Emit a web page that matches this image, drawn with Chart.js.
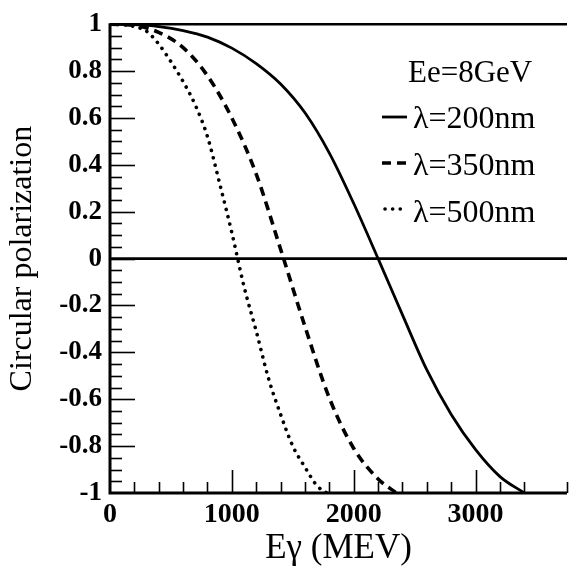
<!DOCTYPE html>
<html>
<head>
<meta charset="utf-8">
<script src="https://cdn.jsdelivr.net/npm/chart.js@4/dist/chart.umd.min.js"></script>
<style>
html,body{margin:0;padding:0;background:#fff;overflow:hidden;}
canvas{display:block;}
</style>
</head>
<body>
<canvas id="c" width="572" height="570"></canvas>
<script>
// ---- data ----
const seriesNames = ["\u03bb=200nm", "\u03bb=350nm", "\u03bb=500nm"];
const headerText = "Ee=8GeV";
const xTitle = "E\u03b3 (MEV)";
const yTitle = "Circular polarization";

const energy200 = [0, 200, 400, 600, 800, 1000, 1200, 1400, 1600, 1800, 2000, 2200, 2400, 2600, 2800, 3000, 3200, 3400];
const pol200    = [1, 0.998, 0.99, 0.973, 0.945, 0.898, 0.832, 0.745, 0.622, 0.45, 0.235, 0, -0.24, -0.475, -0.665, -0.815, -0.93, -1];

const energy350 = [0, 200, 400, 600, 800, 1000, 1200, 1400, 1600, 1800, 2000, 2200, 2350];
const pol350    = [1, 0.995, 0.965, 0.9, 0.78, 0.6, 0.36, 0.04, -0.29, -0.595, -0.81, -0.94, -1];

const energy500 = [0, 100, 200, 300, 400, 500, 600, 700, 800, 900, 1000, 1100, 1200, 1300, 1400, 1500, 1600, 1700, 1780];
const pol500    = [1, 0.998, 0.99, 0.97, 0.915, 0.84, 0.755, 0.655, 0.52, 0.32, 0.11, -0.12, -0.31, -0.51, -0.665, -0.80, -0.89, -0.97, -1];

const xMin = 0, xMax = 3750, xMinorStep = 200, xMajorStep = 1000;
const yMin = -1, yMax = 1, yMinorStep = 0.05, yMajorStep = 0.2;

function pairs(xs, ys){ return xs.map((x,i)=>({x:x, y:ys[i]})); }
function isMajor(v, step){ const r = v/step; return Math.abs(r - Math.round(r)) < 1e-6; }

const SERIF = "'Liberation Serif', 'Times New Roman', serif";

const frame = {
  id: 'frame',
  beforeDatasetsDraw(chart){
    const {ctx, chartArea:a, scales:{y}} = chart;
    ctx.save();
    ctx.strokeStyle = '#000';
    ctx.lineWidth = 2.6;
    const y0 = y.getPixelForValue(0);
    ctx.beginPath(); ctx.moveTo(a.left, y0); ctx.lineTo(a.right, y0); ctx.stroke();
    ctx.restore();
  },
  afterDatasetsDraw(chart){
    const {ctx, chartArea:a, scales:{x, y}} = chart;
    ctx.save();
    ctx.strokeStyle = '#000';
    ctx.lineCap = 'butt';
    ctx.lineWidth = 2.6;
    ctx.beginPath(); ctx.moveTo(a.left, a.top); ctx.lineTo(a.right, a.top); ctx.stroke();
    ctx.lineWidth = 3;
    ctx.beginPath(); ctx.moveTo(a.left, a.top-1); ctx.lineTo(a.left, a.bottom); ctx.lineTo(a.right, a.bottom); ctx.stroke();
    ctx.lineWidth = 1.6;
    x.ticks.forEach(t => {
      if (t.value <= xMin) return;
      const px = Math.round(x.getPixelForValue(t.value)) + 0.5;
      const len = isMajor(t.value, xMajorStep) ? 23 : 11;
      ctx.beginPath(); ctx.moveTo(px, a.bottom); ctx.lineTo(px, a.bottom - len); ctx.stroke();
    });
    y.ticks.forEach(t => {
      if (t.value <= yMin + 1e-9 || t.value >= yMax - 1e-9) return;
      const py = Math.round(y.getPixelForValue(t.value)) + 0.5;
      const len = isMajor(t.value, yMajorStep) ? 25 : 12;
      ctx.beginPath(); ctx.moveTo(a.left, py); ctx.lineTo(a.left + len, py); ctx.stroke();
    });
    ctx.restore();
  },
  afterDraw(chart){
    const {ctx} = chart;
    ctx.save();
    ctx.fillStyle = '#000';
    ctx.font = "31px " + SERIF;
    ctx.textBaseline = 'alphabetic';
    ctx.textAlign = 'left';
    ctx.fillText(headerText, 408, 82);
    ctx.font = "32px " + SERIF;
    const baselines = [128, 175, 222];
    const sampleY = [117, 163, 209];
    chart.data.datasets.forEach((ds, i) => {
      ctx.fillText(seriesNames[i], 413, baselines[i]);
      ctx.save();
      ctx.strokeStyle = '#000';
      ctx.lineWidth = ds.borderWidth;
      ctx.lineCap = ds.borderCapStyle || 'butt';
      ctx.setLineDash(ds.borderDash || []);
      ctx.beginPath();
      if (i === 2) { ctx.moveTo(385, sampleY[i]); ctx.lineTo(403, sampleY[i]); }
      else { ctx.moveTo(382, sampleY[i]); ctx.lineTo(407, sampleY[i]); }
      ctx.stroke();
      ctx.restore();
    });
    ctx.restore();
  }
};

new Chart(document.getElementById('c'), {
  type: 'line',
  data: {
    datasets: [
      { label: seriesNames[0], data: pairs(energy200, pol200), borderColor: '#000', borderWidth: 2.8,
        borderDash: [], borderCapStyle: 'butt', pointRadius: 0, cubicInterpolationMode: 'monotone', fill: false },
      { label: seriesNames[1], data: pairs(energy350, pol350), borderColor: '#000', borderWidth: 3.6,
        borderDash: [9, 6], borderCapStyle: 'butt', pointRadius: 0, cubicInterpolationMode: 'monotone', fill: false },
      { label: seriesNames[2], data: pairs(energy500, pol500), borderColor: '#000', borderWidth: 3.6,
        borderDash: [0.1, 7.5], borderCapStyle: 'round', pointRadius: 0, cubicInterpolationMode: 'monotone', fill: false }
    ]
  },
  options: {
    responsive: false,
    devicePixelRatio: 1,
    animation: false,
    layout: { padding: { top: 22, right: 1, left: 0, bottom: 0 } },
    plugins: { legend: { display: false }, tooltip: { enabled: false } },
    scales: {
      x: {
        type: 'linear', min: xMin, max: xMax,
        border: { display: false },
        grid: { display: false, drawTicks: false },
        ticks: {
          stepSize: xMinorStep, autoSkip: false, maxRotation: 0, padding: 5,
          color: '#000', font: { family: SERIF, size: 28, weight: 'bold' },
          callback: v => isMajor(v, xMajorStep) ? String(v) : ''
        },
        title: { display: true, text: xTitle, color: '#000',
          font: { family: SERIF, size: 35, lineHeight: 1 }, padding: { top: 0, bottom: 4 } },
        afterFit: s => { s.height = 77; }
      },
      y: {
        type: 'linear', min: yMin, max: yMax,
        border: { display: false },
        grid: { display: false, drawTicks: false },
        ticks: {
          stepSize: yMinorStep, autoSkip: false, padding: 8,
          color: '#000', font: { family: SERIF, size: 27, weight: 'bold' },
          callback: v => isMajor(v, yMajorStep) ? String(Math.round(v*10)/10) : ''
        },
        title: { display: true, text: yTitle, color: '#000',
          font: { family: SERIF, size: 32, lineHeight: 1 }, padding: { top: 7, bottom: 0 } },
        afterFit: s => { s.width = 110; }
      }
    }
  },
  plugins: [frame]
});
</script>
</body>
</html>
